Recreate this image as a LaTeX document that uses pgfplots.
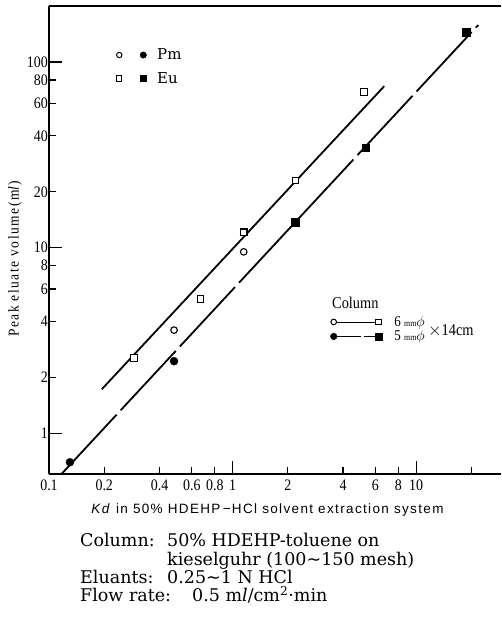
\documentclass[border=0pt]{standalone}
\usepackage{pgfplots}
\pgfplotsset{compat=1.18}
\usepackage{fontspec}
\setmainfont{DejaVu Serif}
\newfontfamily\tickfont[FakeStretch=0.87]{Liberation Serif}
\newfontfamily\labfont[FakeStretch=0.9,LetterSpace=10]{Liberation Serif}
\newfontfamily\xlabfont[LetterSpace=10]{Liberation Sans}
\newfontfamily\symfont{DejaVu Sans}
\newfontfamily\legfont{DejaVu Serif}

\begin{document}
\begin{tikzpicture}[x=1pt,y=1pt]
\useasboundingbox (0,0) rectangle (501,-621);
\begin{axis}[
  at={(49pt,-474pt)}, anchor=south west,
  scale only axis, width=452pt, height=468pt,
  xmode=log, ymode=log,
  xmin=0.1, xmax=29, ymin=0.605, ymax=200,
  axis x line=box, axis y line=left,
  axis line style={-, line width=1.4pt},
  xminorticks=false, yminorticks=false,
  tick align=inside, xtick pos=bottom, ytick pos=left,
  major tick length=7pt,
  every tick/.style={line width=1.2pt, black},
  /pgf/number format/assume math mode=true,
  xtick={0.1,0.2,0.4,0.6,0.8,1,2,4,6,8,10,20},
  xticklabels={0.1,0.2,0.4,0.6,0.8,1,2,4,6,8,10,{}},
  ytick={1,2,4,6,8,10,20,40,60,80,100},
  yticklabels={1,2,4,6,8,10,20,40,60,80,100},
  extra x ticks={1,10}, extra x tick labels={},
  extra y ticks={1,10,100}, extra y tick labels={},
  extra tick style={major tick length=13pt},
  tick label style={font=\tickfont\fontsize{16}{16}\selectfont},
  yticklabel style={inner sep=1pt},
  xticklabel style={inner sep=2pt, yshift=-4pt},
  every axis x label/.style={at={(rel axis cs:0.4834,-0.0769)}, anchor=center},
  every axis y label/.style={at={(rel axis cs:-0.0752,0.46)}, anchor=center, rotate=90},
  xlabel={\textit{Kd} in 50\% HDEHP\,−HCl solvent extraction system},
  xlabel style={font=\xlabfont\fontsize{13.5}{14}\selectfont},
  ylabel={Peak eluate volume(m\textit{l})},
  ylabel style={font=\labfont\fontsize{15}{15}\selectfont},
  legend cell align=left,
  legend style={at={(rel axis cs:0.148,0.909)}, anchor=north west, draw=none, fill=none,
    inner sep=0pt, row sep=11pt, column sep=10.5pt,
    nodes={inner sep=0pt, font=\legfont\fontsize{15}{15}\selectfont}},
]
\addplot[line width=1.8pt, no marks, forget plot] coordinates {(0.194,1.73) (6.7,74)};
\addplot[line width=1.8pt, no marks, forget plot, dash pattern=on 81pt off 6pt] coordinates {(0.117,0.605) (21.8,158)};
% Eu, 6 mm (open squares)
\addplot[only marks, forget plot, mark=square*, mark size=3.3pt, mark options={fill=white, draw=black, line width=1.1pt}]
  coordinates {(0.29,2.55) (0.67,5.3) (1.15,12.1) (2.2,23) (5.2,69)};
% Pm, 6 mm (open circles)
\addplot[only marks, forget plot, mark=*, mark size=3.3pt, mark options={fill=white, draw=black, line width=1.1pt}]
  coordinates {(0.48,3.6) (1.15,9.5)};
% Eu, 5 mm (filled squares)
\addplot[only marks, forget plot, mark=square*, mark size=3.8pt, mark options={fill=black, draw=black}]
  coordinates {(2.2,13.7) (5.3,34.6) (18.7,144)};
% Pm, 5 mm (filled circles)
\addplot[only marks, forget plot, mark=*, mark size=4pt, mark options={fill=black, draw=black}]
  coordinates {(0.13,0.70) (0.48,2.45)};
\addlegendimage{legend image code/.code={\draw[line width=1pt,fill=white] (0pt,0pt) circle (2.7pt); \fill (24pt,0pt) circle (3.2pt);}}
\addlegendentry{Pm}
\addlegendimage{legend image code/.code={\draw[line width=1pt,fill=white] (-2.7pt,-2.7pt) rectangle (2.7pt,2.7pt); \fill (20.8pt,-3.2pt) rectangle (27.2pt,3.2pt);}}
\addlegendentry{Eu}
\end{axis}
\begin{axis}[
  at={(49pt,-474pt)}, anchor=south west,
  scale only axis, width=452pt, height=468pt,
  xmode=log, ymode=log, hide axis,
  xmin=0.1, xmax=29, ymin=0.605, ymax=200,
  legend cell align=left,
  legend style={at={(rel axis cs:0.6217,0.3376)}, anchor=north west, draw=none, fill=none,
    inner sep=0pt, row sep=3pt, column sep=12pt,
    nodes={inner sep=0pt, font=\tickfont\fontsize{15}{15}\selectfont}},
]
\addlegendimage{legend image code/.code={\draw[line width=0.6pt] (0pt,0pt) -- (45pt,0pt); \draw[line width=1pt,fill=white] (0pt,0pt) circle (2.8pt); \draw[line width=1pt,fill=white] (42pt,-2.8pt) rectangle (47.6pt,2.8pt);}}
\addlegendentry{6 {\fontsize{9}{9}\selectfont mm}$\phi$}
\addlegendimage{legend image code/.code={\draw[line width=1.8pt] (0pt,0pt) -- (27pt,0pt); \draw[line width=1.8pt] (30pt,0pt) -- (42pt,0pt); \fill (0pt,0pt) circle (3.3pt); \fill (41.5pt,-3.5pt) rectangle (48.5pt,3.5pt);}}
\addlegendentry{5 {\fontsize{9}{9}\selectfont mm}$\phi$}
\end{axis}
\node[anchor=west, inner sep=0pt, font=\tickfont\fontsize{16.5}{16.5}\selectfont] at (332,-302.5) {Column};
\node[anchor=west, inner sep=0pt, font=\tickfont\fontsize{16.5}{16.5}\selectfont] at (428,-331) {$\times$14cm};
\begin{scope}[every node/.style={anchor=base west, inner sep=0pt, font=\fontsize{17.5}{18}\selectfont}]
\node at (80,-546.7) {Column:};
\node at (167,-546.7) {50\% HDEHP-toluene on};
\node at (167,-565.7) {kieselguhr (100{\symfont ∼}150 mesh)};
\node at (80,-583.3) {Eluants:};
\node at (167,-583.3) {0.25{\symfont ∼}1 N HCl};
\node at (80,-601.7) {Flow rate:};
\node at (192,-601.7) {0.5 m\textit{l}/cm\textsuperscript{2}·min};
\end{scope}
\end{tikzpicture}
\end{document}
